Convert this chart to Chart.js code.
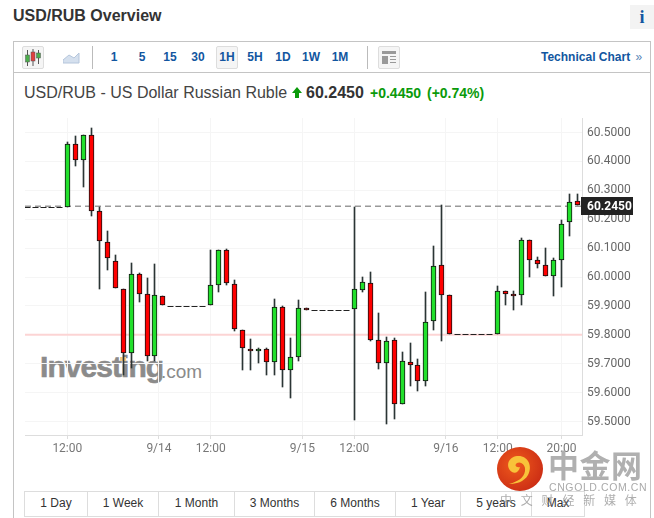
<!DOCTYPE html>
<html>
<head>
<meta charset="utf-8">
<title>USD/RUB Overview</title>
<script src="https://cdn.jsdelivr.net/npm/chart.js@4"></script>
<style>
    html, body { margin: 0; padding: 0; background: #fff; }
    body { width: 654px; height: 518px; position: relative; overflow: hidden; font-family: "Liberation Sans", Arial, sans-serif; color: #333; }
    .abs { position: absolute; white-space: nowrap; }
    #box { left: 13px; top: 41px; width: 638px; height: 480px; border: 1px solid #c4c4c4; box-sizing: border-box; }
    #toolbarLine { left: 14px; top: 72px; width: 636px; height: 1px; background: #c4c4c4; }
    .tf { top: 50px; font-size: 12px; font-weight: bold; color: #1256a0; width: 30px; text-align: center; line-height: 14px; }
    .sep { top: 46px; width: 1px; height: 23px; background: #bbb; }
    .iconbox { border: 1px solid #ddd; background: #f5f5f5; box-sizing: border-box; border-radius: 2px; }
    .tab { top: 491px; height: 26px; box-sizing: border-box; border: 1px solid #ddd; border-right: none; font-size: 12px; line-height: 22px; text-align: center; color: #333; background: #fff; }
    canvas { position: absolute; left: 0; top: 0; }
</style>
</head>
<body>
<div class="abs" style="left:13px;top:6px;font-size:16px;font-weight:bold;line-height:20px;">USD/RUB Overview</div>
<div class="abs" style="left:630px;top:5px;width:24px;height:24px;background:#f3f3f3;color:#1256a0;font:bold 18px 'Liberation Serif',serif;line-height:24px;text-align:center;">i</div>

<div class="abs" id="box"></div>
<div class="abs" id="toolbarLine"></div>

<!-- toolbar -->
<div class="abs iconbox" style="left:22px;top:46px;width:22px;height:23px;"></div>
<svg class="abs" style="left:22px;top:46px;" width="22" height="23">
    <path d="M5.5 4v16M11 3v17M16.5 4v14" stroke="#555" fill="none"/>
    <rect x="3.5" y="9" width="4" height="7" fill="#4cae4c" stroke="#555" stroke-width=".5"/>
    <rect x="9" y="6" width="4" height="9" fill="#e04040" stroke="#555" stroke-width=".5"/>
    <rect x="14.5" y="7" width="4" height="5" fill="#4cae4c" stroke="#555" stroke-width=".5"/>
</svg>
<svg class="abs" style="left:63px;top:52px;" width="17" height="12">
    <path d="M0 8L6 3L11 6L16 1V11H0Z" fill="#d5e0ee" stroke="#b5c6dc"/>
</svg>
<div class="abs sep" style="left:92px;"></div>
<div class="abs tf" style="left:99px;">1</div>
<div class="abs tf" style="left:127px;">5</div>
<div class="abs tf" style="left:155px;">15</div>
<div class="abs tf" style="left:183px;">30</div>
<div class="abs iconbox" style="left:216px;top:46px;width:22px;height:23px;"></div>
<div class="abs tf" style="left:212px;">1H</div>
<div class="abs tf" style="left:240px;">5H</div>
<div class="abs tf" style="left:268px;">1D</div>
<div class="abs tf" style="left:296px;">1W</div>
<div class="abs tf" style="left:325px;">1M</div>
<div class="abs sep" style="left:367px;"></div>
<div class="abs iconbox" style="left:378px;top:46px;width:22px;height:23px;"></div>
<svg class="abs" style="left:378px;top:46px;" width="22" height="23">
    <path d="M4 5h14v3H4zM4 10h6v8H4z" fill="#999"/>
    <path d="M12 10.5h6M12 13.5h6M12 16.5h6" stroke="#999"/>
</svg>
<div class="abs" style="left:541px;top:50px;font-size:12px;font-weight:bold;color:#1256a0;line-height:14px;">Technical Chart <span style="font-weight:normal;color:#5a86b8;margin-left:2px;">»</span></div>

<!-- quote line -->
<div class="abs" style="left:24px;top:83px;font-size:16px;line-height:19px;color:#444;">USD/RUB - US Dollar Russian Ruble</div>
<svg class="abs" style="left:292px;top:87px;" width="10" height="11">
    <path d="M5 0L10 6H7V11H3V6H0Z" fill="#0a9a0a"/>
</svg>
<div class="abs" style="left:306px;top:83px;font-size:16px;font-weight:bold;line-height:19px;">60.2450</div>
<div class="abs" style="left:370px;top:85px;font-size:14px;font-weight:bold;line-height:16px;color:#0a9a0a;">+0.4450</div>
<div class="abs" style="left:427px;top:85px;font-size:14px;font-weight:bold;line-height:16px;color:#0a9a0a;">(+0.74%)</div>

<!-- investing watermark sits under the chart canvas -->
<div class="abs" style="left:40px;top:347px;font-size:30px;font-weight:bold;line-height:40px;color:#8b8b8b;letter-spacing:-.95px;-webkit-text-stroke:.6px #8b8b8b;">Investing</div>
<div class="abs" style="left:161px;top:352px;font-size:19px;line-height:40px;color:#8b8b8b;">.com</div>
<div class="abs" style="left:120px;top:357px;width:6px;height:4px;background:#f6ca80;"></div>

<canvas id="priceChart" width="654" height="518"></canvas>

<!-- range tabs -->
<div class="abs tab" style="left:24px;width:63px;">1 Day</div>
<div class="abs tab" style="left:87px;width:71px;">1 Week</div>
<div class="abs tab" style="left:158px;width:76px;">1 Month</div>
<div class="abs tab" style="left:234px;width:80px;">3 Months</div>
<div class="abs tab" style="left:314px;width:81px;">6 Months</div>
<div class="abs tab" style="left:395px;width:65px;">1 Year</div>
<div class="abs tab" style="left:460px;width:71px;">5 years</div>
<div class="abs tab" style="left:531px;width:54px;border-right:1px solid #ddd;">Max</div>

<!-- cngold watermark on top of everything -->
<svg class="abs" style="left:497px;top:447px;" width="46" height="44">
    <defs><radialGradient id="logoRed" cx=".4" cy=".4" r=".7"><stop offset="0" stop-color="#ef5a1c"/><stop offset="1" stop-color="#c92a14"/></radialGradient></defs>
    <ellipse cx="23" cy="22" rx="23" ry="22" fill="url(#logoRed)"/>
    <path d="M15 25C8 20 11 10 20 9C31 8 36 19 31 28C27 35 19 37 12 37C20 35 27 31 28 24C29 18 24 14 20 16C17 18 19 21 23 20C22 25 18 27 15 25Z" fill="#f8c23a"/>
</svg>
<div class="abs" style="left:548px;top:444px;font:bold 31px 'Noto Sans CJK SC',sans-serif;line-height:40px;color:#b0b0b0;letter-spacing:.5px;">中金网</div>
<div class="abs" style="left:549px;top:481px;font-size:10.5px;line-height:12px;color:#aaa;letter-spacing:.6px;">CNGOLD.COM.CN</div>
<div class="abs" style="left:500px;top:492px;font:12px 'Noto Sans CJK SC',sans-serif;line-height:15px;color:rgba(140,140,140,.7);letter-spacing:8.8px;">中文财经新媒体</div>

<script>
// --- DATA ---
// candle index 0 is the 12:00 bar of 9/13, the five flat bars before it have negative x
const opens = [
    60.241, 60.241, 60.241, 60.241, 60.241,
    60.241, 60.459, 60.4036, 60.4901, 60.2272, 60.1199, 60.0565, 59.9573, 59.7358, 60.0092,
    59.94, 59.7255, 59.9331, 59.8996, 59.8996, 59.8996, 59.8996, 59.8996, 59.9019, 59.9711,
    60.0922, 59.9746, 59.8154, 59.7497, 59.7428, 59.7497, 59.7047, 59.895, 59.677, 59.722,
    59.8916, 59.8846, 59.8846, 59.8846, 59.8846, 59.8846, 59.8881, 59.9538, 59.978, 59.7808,
    59.7012, 59.7808, 59.5594, 59.7047, 59.6943, 59.6389, 59.8466, 60.0403, 59.9365, 59.8016,
    59.8016, 59.8016, 59.8016, 59.8016, 59.8016, 59.9504, 59.94, 59.9365, 60.1268, 60.0576,
    60.0403, 60.0023, 60.0576, 60.1891, 60.2618
];
const closes = [
    60.241, 60.241, 60.241, 60.241, 60.241,
    60.459, 60.4036, 60.4901, 60.2272, 60.1234, 60.0645, 59.9608, 59.7358, 60.0092, 59.94,
    59.7255, 59.9365, 59.9019, 59.8996, 59.8996, 59.8996, 59.8996, 59.8996, 59.9711, 60.0922,
    59.98, 59.8189, 59.7532, 59.7428, 59.7497, 59.7047, 59.895, 59.677, 59.722, 59.8916,
    59.8846, 59.8846, 59.8846, 59.8846, 59.8846, 59.8846, 59.9573, 59.9815, 59.7808, 59.7012,
    59.7774, 59.5594, 59.7082, 59.6943, 59.6389, 59.8431, 60.0369, 59.9365, 59.8016, 59.8016,
    59.8016, 59.8016, 59.8016, 59.8016, 59.9504, 59.94, 59.9331, 60.1268, 60.0576, 60.0438,
    60.0023, 60.0576, 60.1822, 60.2583, 60.248
];
const highs = [
    60.241, 60.241, 60.241, 60.241, 60.241,
    60.4682, 60.4878, 60.4901, 60.5144, 60.241, 60.158, 60.0761, 59.9573, 60.0473, 60.0127,
    59.9954, 60.045, 59.9331, 59.8996, 59.8996, 59.8996, 59.8996, 59.8996, 60.0938, 60.0922,
    60.0957, 59.9884, 59.8154, 59.7843, 59.7532, 59.7532, 59.9227, 59.8985, 59.7878, 59.9192,
    59.8916, 59.8846, 59.8846, 59.8846, 59.8846, 59.8846, 60.241, 59.9988, 60.016, 59.8742,
    59.7912, 59.7877, 59.7393, 59.7704, 59.7151, 59.9469, 60.1061, 60.248, 59.9365, 59.8016,
    59.8016, 59.8016, 59.8016, 59.8016, 59.9676, 59.9504, 59.9504, 60.1337, 60.1268, 60.068,
    60.0991, 60.0645, 60.196, 60.286, 60.286
];
const lows = [
    60.241, 60.241, 60.241, 60.241, 60.241,
    60.241, 60.3852, 60.3125, 60.2122, 59.9573, 60.0242, 59.9608, 59.6597, 59.684, 59.9123,
    59.7082, 59.7082, 59.9019, 59.8996, 59.8996, 59.8996, 59.8996, 59.8996, 59.9019, 59.9469,
    59.9711, 59.812, 59.677, 59.677, 59.7013, 59.6597, 59.6597, 59.6182, 59.5801, 59.7082,
    59.8846, 59.8846, 59.8846, 59.8846, 59.8846, 59.8846, 59.504, 59.9469, 59.7774, 59.6805,
    59.4902, 59.5074, 59.5594, 59.6217, 59.6044, 59.6217, 59.8154, 59.7774, 59.8016, 59.8016,
    59.8016, 59.8016, 59.8016, 59.8016, 59.8016, 59.9019, 59.8846, 59.9019, 59.9988, 60.03,
    60.0023, 59.9331, 59.9642, 60.1407, 60.248
];
const firstIndex = -5;

const yTickValues = [59.5, 59.6, 59.7, 59.8, 59.9, 60.0, 60.1, 60.2, 60.3, 60.4, 60.5];
const xTickValues = [0, 11.5, 18, 29.5, 36, 47.5, 54, 62];
const xTickLabels = ['12:00', '9/14', '12:00', '9/15', '12:00', '9/16', '12:00', '20:00'];

const lastPrice = 60.245;
const supportLevel = 59.8;

// --- VIEW WINDOW ---
const xMin = -5.31, xMax = 64.58;
const yMin = 59.4533, yMax = 60.5502;

// --- BUILD DATASETS ---
const indexes = opens.map((_, i) => i + firstIndex);
const isFlat = i => opens[i] === closes[i];
const bodyColor = i => (closes[i] > opens[i] ? '#22e02c' : '#ff0000');

const wicks = indexes.map((x, i) => ({ x, y: [lows[i], highs[i]] })).filter((_, i) => !isFlat(i));
const bodies = indexes.map((x, i) => ({ x, y: [opens[i], closes[i]] })).filter((_, i) => !isFlat(i));
const bodyColors = indexes.map((_, i) => i).filter(i => !isFlat(i)).map(bodyColor);
const flats = indexes.map((x, i) => ({ x, y: opens[i] })).filter((_, i) => isFlat(i));

const levelLine = value => [{ x: xMin, y: value }, { x: xMax, y: value }];

// --- KEEP CANDLES ON WHOLE PIXELS ---
const snapCandles = {
    id: 'snapCandles',
    beforeDatasetsDraw(chart) {
        chart.data.datasets.forEach((ds, n) => {
            if (!ds.candle) return;
            chart.getDatasetMeta(n).data.forEach(el => {
                el.x = Math.floor(el.x) + 0.5;
                if (el.base !== undefined) {
                    el.y = Math.round(el.y);
                    el.base = Math.round(el.base);
                } else {
                    el.y = Math.floor(el.y) + 0.5;
                }
            });
        });
    }
};

// --- LAST PRICE FLAG ---
const priceFlag = {
    id: 'priceFlag',
    afterDraw(chart) {
        const { ctx, scales: { y } } = chart;
        const py = Math.round(y.getPixelForValue(lastPrice));
        ctx.save();
        ctx.fillStyle = '#222';
        ctx.fillRect(y.left - 1, py - 9, 52, 18);
        ctx.fillStyle = '#fff';
        ctx.font = 'bold 12px Roboto';
        ctx.textBaseline = 'middle';
        ctx.fillText(lastPrice.toFixed(4), y.left + 5, py + 0.5);
        ctx.restore();
    }
};

// --- CHART ---
const ctx = document.getElementById('priceChart').getContext('2d');
new Chart(ctx, {
    type: 'bar',
    data: {
        datasets: [
            {
                label: 'Body',
                candle: true,
                data: bodies,
                order: 1,
                grouped: false,
                barThickness: 5,
                backgroundColor: bodyColors,
                borderColor: '#111',
                borderWidth: 1,
                borderSkipped: false
            },
            {
                label: 'Wick',
                candle: true,
                data: wicks,
                order: 2,
                grouped: false,
                barThickness: 1,
                backgroundColor: '#2b3535',
                borderWidth: 0
            },
            {
                type: 'line',
                label: 'Flat',
                candle: true,
                data: flats,
                order: 3,
                showLine: false,
                pointStyle: 'line',
                pointRadius: 3,
                pointBorderWidth: 1,
                pointBorderColor: '#222'
            },
            {
                type: 'line',
                label: 'Last',
                data: levelLine(lastPrice),
                order: 4,
                borderColor: '#999',
                borderWidth: 1.5,
                borderDash: [6, 4],
                pointRadius: 0
            },
            {
                type: 'line',
                label: 'Level',
                data: levelLine(supportLevel),
                order: 5,
                borderColor: '#fcd4d4',
                borderWidth: 2,
                pointRadius: 0
            }
        ]
    },
    options: {
        responsive: false,
        animation: false,
        layout: { padding: { left: 25, top: 118, right: 0, bottom: 0 } },
        plugins: { legend: { display: false }, tooltip: { enabled: false } },
        scales: {
            x: {
                type: 'linear',
                min: xMin,
                max: xMax,
                offset: false,
                afterFit: s => { s.height = 83; },
                afterBuildTicks: s => { s.ticks = xTickValues.map(value => ({ value })); },
                border: { color: '#ddd' },
                grid: { offset: false, color: '#f5f5f5', tickColor: '#ddd', tickLength: 4 },
                ticks: {
                    autoSkip: false,
                    maxRotation: 0,
                    padding: 3,
                    color: '#777',
                    font: { family: 'Roboto', size: 12 },
                    callback: value => xTickLabels[xTickValues.indexOf(value)]
                }
            },
            y: {
                type: 'linear',
                position: 'right',
                min: yMin,
                max: yMax,
                afterFit: s => { s.width = 72; },
                afterBuildTicks: s => { s.ticks = yTickValues.map(value => ({ value })); },
                border: { color: '#ddd' },
                grid: { color: '#f5f5f5', drawTicks: false },
                ticks: {
                    padding: 5,
                    color: '#666',
                    font: { family: 'Roboto', size: 12 },
                    callback: value => value.toFixed(4)
                }
            }
        }
    },
    plugins: [snapCandles, priceFlag]
});
</script>
</body>
</html>
